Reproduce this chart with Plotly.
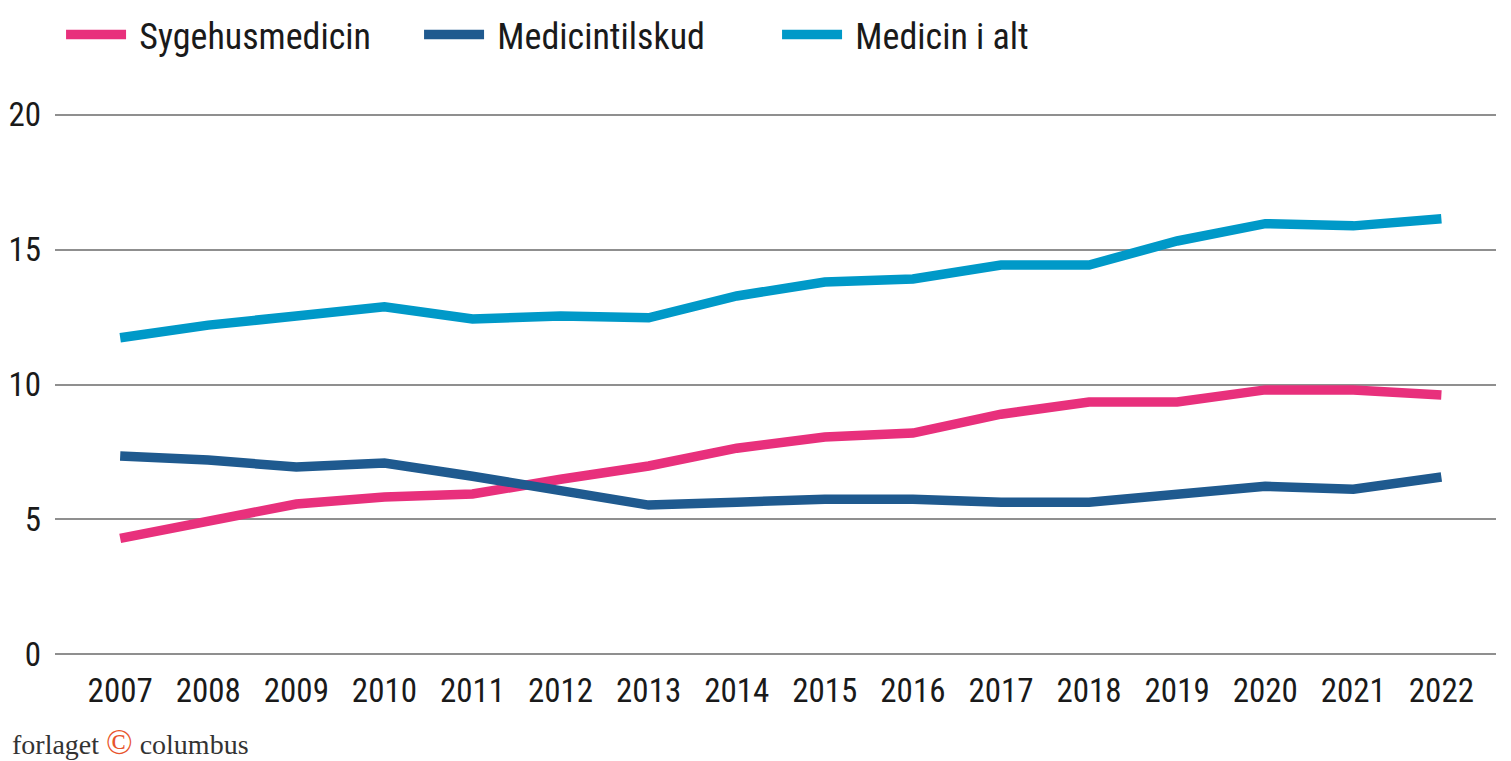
import plotly.graph_objects as go

years = list(range(2007, 2023))
sygehusmedicin = [4.30, 4.97, 5.57, 5.83, 5.94, 6.49, 6.98, 7.64, 8.05, 8.20, 8.90, 9.35, 9.35, 9.80, 9.80, 9.61]
medicintilskud = [7.35, 7.20, 6.94, 7.09, 6.60, 6.09, 5.53, 5.64, 5.75, 5.75, 5.64, 5.64, 5.97, 6.23, 6.12, 6.57]
medicin_i_alt = [11.73, 12.20, 12.54, 12.88, 12.43, 12.54, 12.47, 13.28, 13.80, 13.91, 14.43, 14.43, 15.32, 15.96, 15.88, 16.14]
y_ticks = [0, 5, 10, 15, 20]

FONT = "Roboto Condensed, DejaVu Sans Condensed, sans-serif"

series = [
    ("Sygehusmedicin", sygehusmedicin, "#E8307C"),
    ("Medicintilskud", medicintilskud, "#1F5A8F"),
    ("Medicin i alt", medicin_i_alt, "#0099C8"),
]

fig = go.Figure()
for name, vals, col in series:
    fig.add_trace(go.Scatter(x=years, y=vals, name="\u00a0" + name, mode="lines",
                             line=dict(color=col, width=9.5)))

fig.update_layout(
    width=1503, height=753,
    margin=dict(l=47, r=15, t=104, b=104, autoexpand=False),
    paper_bgcolor="white", plot_bgcolor="white",
    font=dict(family=FONT, size=33, color="#1a1a1a"),
    showlegend=True,
    legend=dict(orientation="h", x=0.0042, y=1.142, xanchor="left", yanchor="middle",
                font=dict(size=36), itemwidth=60, entrywidth=283, entrywidthmode="pixels",
                tracegroupgap=0, bgcolor="rgba(0,0,0,0)"),
    xaxis=dict(range=[2006.26, 2022.62], tickvals=years, ticktext=[str(y) for y in years],
               showgrid=False, zeroline=False, showline=False, ticks="",
               tickfont=dict(size=33), ticklabelstandoff=11),
    yaxis=dict(range=[-0.1, 20.1], tickvals=y_ticks, showgrid=True, gridcolor="#8f8f8f",
               gridwidth=2, zeroline=False, showline=False, ticks="",
               tickfont=dict(size=33), ticklabelstandoff=13),
    annotations=[dict(
        text='forlaget <span style="color:#E8542C;font-size:35px">©</span> columbus',
        xref="paper", yref="paper", x=-0.0312, y=-0.1565, xanchor="left", yanchor="middle",
        showarrow=False, font=dict(family="Liberation Serif, DejaVu Serif, serif", size=28, color="#333333"))],
)

fig.write_html("out.html")
